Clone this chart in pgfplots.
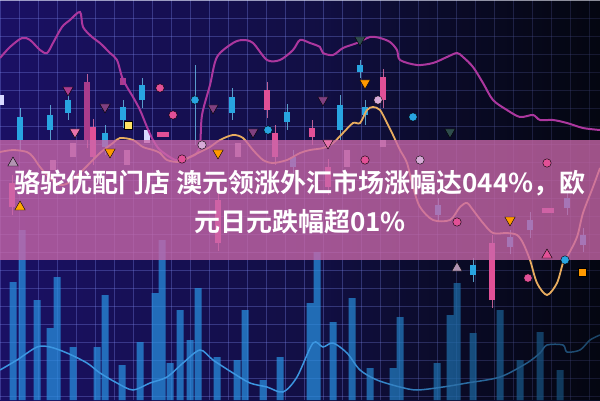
\documentclass[border=0pt]{standalone}
\usepackage{pgfplots}
\pgfplotsset{compat=1.18}
\usepackage{fontspec}
\usetikzlibrary{fadings}
\newfontfamily\cjk[BoldFont={Noto Sans CJK SC Bold}]{Noto Sans CJK SC}
\definecolor{bgL}{RGB}{26,16,100}
\definecolor{bgM}{RGB}{36,28,145}
\definecolor{bgR}{RGB}{10,14,38}
\definecolor{gridc}{RGB}{120,130,230}
\definecolor{barc}{RGB}{40,145,225}
\definecolor{blueline}{RGB}{60,150,225}
\definecolor{magline}{RGB}{172,55,158}
\definecolor{orline}{RGB}{232,172,95}
\definecolor{cy}{RGB}{40,165,225}
\definecolor{pk}{RGB}{225,80,150}
\definecolor{pkd}{RGB}{170,60,140}
\definecolor{lav}{RGB}{215,170,215}
\definecolor{banner}{RGB}{202,104,170}
\begin{document}
\begin{tikzpicture}
\begin{axis}[name=ax, at={(0,0)}, anchor=south west,
  scale only axis, width=600pt, height=400pt,
  xmin=0, xmax=600, ymin=0, ymax=400,
  axis line style={draw=none},
  xtick={0,19,...,600}, ytick={4,22,...,400},
  xticklabels={}, yticklabels={}, major tick length=0pt,
  grid=major, grid style={gridc, line width=0.6pt, opacity=0.35},
  axis background/.style={shade, left color=bgL, middle color=bgM, right color=bgR}]
% bottom bars
\addplot[ybar, bar shift=0pt, bar width=7, fill=barc, draw=none, fill opacity=0.72] coordinates {
(13,118) (22,170) (37,100) (50,72) (57,123) (73,53) (97,53) (105,105) (122,35) (140,58)
(155,107) (162,160) (170,37) (180,90) (190,60) (198,112) (217,43) (237,40) (245,90) (263,20)
(280,43) (310,97) (317,148) (333,78) (352,102) (370,32) (393,32) (400,83) (437,37) (450,85)
(457,117) (473,67) (500,90) (520,40) (540,68) (560,30)};
% bottom blue line
\addplot[blueline, line width=1.5pt, smooth] coordinates {
(0,30) (17,40) (37,53) (50,53) (67,47) (87,37) (100,27) (117,17) (133,10) (150,17) (167,23)
(183,37) (200,50) (213,40) (233,27) (250,17) (267,13) (283,8) (297,23) (313,57) (323,53)
(333,57) (347,47) (360,30) (377,20) (400,13) (417,10) (443,13) (467,17) (500,23) (527,37)
(540,47) (547,55) (563,55) (567,48) (580,50) (590,60) (600,65)};
\fill[black, opacity=0.55, path fading=west] (axis cs:330,0) rectangle (axis cs:600,400);
% wicks
\addplot[cy!70!white, line width=1pt, opacity=0.8, unbounded coords=jump] coordinates {
(20,250) (20,292) (20,nan) (50,260) (50,295) (50,nan) (68,280) (68,305) (68,nan)
(105,245) (105,275) (105,nan) (123,272) (123,300) (123,nan) (142,292) (142,322) (142,nan)
(232,280) (232,312) (232,nan) (287,270) (287,296) (287,nan) (293,225) (293,250) (293,nan)
(360,322) (360,340) (360,nan) (365,275) (365,300) (365,nan) (340,260) (340,305) (340,nan)
(473,118) (473,142) (473,nan) (438,178) (438,202) (438,nan) (530,162) (530,188) (530,nan)
(567,185) (567,210) (567,nan) (583,148) (583,172) (583,nan) (510,146) (510,170) (510,nan)
(195,255) (195,335)};
\addplot[pk!80!white, line width=1pt, opacity=0.8, unbounded coords=jump] coordinates {
(87,252) (87,326) (87,nan) (93,235) (93,281) (93,nan) (267,282) (267,318) (267,nan)
(275,235) (275,275) (275,nan) (312,255) (312,280) (312,nan) (383,292) (383,331) (383,nan)
(328,205) (328,241) (328,nan) (492,92) (492,165) (492,nan) (218,149) (218,208) (218,nan)
(12,185) (12,225)};
% candle bodies
\addplot[cy, line width=6.5pt, unbounded coords=jump] coordinates {
(20,260) (20,283) (20,nan) (50,270) (50,285) (50,nan) (68,287) (68,300) (68,nan)
(105,253) (105,267) (105,nan) (123,280) (123,293) (123,nan) (142,300) (142,315) (142,nan)
(232,287) (232,303) (232,nan) (287,278) (287,288) (287,nan) (293,233) (293,243) (293,nan)
(360,328) (360,335) (360,nan) (365,285) (365,293) (365,nan) (340,270) (340,295) (340,nan)
(473,125) (473,135) (473,nan) (438,185) (438,195) (438,nan) (530,170) (530,180) (530,nan)
(567,192) (567,202) (567,nan) (583,155) (583,165) (583,nan) (510,153) (510,163)};
\addplot[pk, line width=6.5pt, unbounded coords=jump] coordinates {
(93,243) (93,273) (93,nan) (267,290) (267,310) (267,nan) (275,243) (275,267) (275,nan)
(312,263) (312,272) (312,nan) (383,300) (383,323) (383,nan) (328,213) (328,233) (328,nan)
(492,100) (492,157) (492,nan) (218,157) (218,200) (218,nan) (12,193) (12,217)};
\addplot[pkd, line width=6.5pt, unbounded coords=jump] coordinates {
(87,260) (87,318) (87,nan) (123,315) (123,322)};
\addplot[pk, line width=5pt, unbounded coords=jump] coordinates {
(157,265.5) (169,265.5) (169,nan) (542,190) (554,190)};
\addplot[lav, line width=6.5pt, unbounded coords=jump, opacity=0.8] coordinates {
(73,243) (73,257) (73,nan) (127,235) (127,250) (127,nan) (53,230) (53,240) (53,nan)
(238,243) (238,257) (238,nan) (347,233) (347,250) (347,nan) (383,253) (383,260)};
\addplot[white!85!blue, line width=6pt, unbounded coords=jump] coordinates {
(147,257) (147,270) (147,nan) (1,295) (1,305)};
% markers
\addplot[only marks, mark=triangle*, mark size=6pt, mark options={rotate=180, draw=none, fill=pkd}] coordinates {(68,310)};
\addplot[only marks, mark=triangle*, mark size=6pt, mark options={rotate=180, draw=none, fill=violet!50!gray}] coordinates {(105,293) (213,292) (323,300) (253,268)};
\addplot[only marks, mark=triangle*, mark size=6pt, mark options={rotate=180, draw=none, fill=pk!80!white}] coordinates {(75,268) (328,257)};
\addplot[only marks, mark=triangle*, mark size=6pt, mark options={rotate=180, draw=none, fill=orange!80!yellow}] coordinates {(110,248) (218,247) (510,180) (365,317)};
\addplot[only marks, mark=triangle*, mark size=6pt, mark options={rotate=180, draw=none, fill=gray!60!teal!60!black}] coordinates {(360,360) (450,268)};
\addplot[only marks, mark=triangle*, mark size=6pt, mark options={draw=none, fill=gray!60!violet!60!white}] coordinates {(13,237) (457,132)};
\addplot[only marks, mark=triangle*, mark size=6pt, mark options={draw=none, fill=orange!70!yellow}] coordinates {(20,193)};
\addplot[only marks, mark=triangle*, mark size=6pt, mark options={draw=none, fill=pk}] coordinates {(547,145)};
\addplot[only marks, mark=*, mark size=4.2pt, mark options={draw=none, fill=pk}] coordinates {(173,285) (182,241) (457,178) (528,122) (365,240) (547,237) (160,312)};
\addplot[only marks, mark=*, mark size=4.2pt, mark options={draw=none, fill=cy}] coordinates {(195,300) (268,270) (413,283) (565,140)};
\addplot[only marks, mark=*, mark size=4.2pt, mark options={draw=none, fill=lav}] coordinates {(202,255) (420,240) (378,300)};
\addplot[only marks, mark=square*, mark size=4pt, mark options={draw=none, fill=yellow!70!orange!60!white}] coordinates {(128,275)};
\addplot[only marks, mark=square*, mark size=4pt, mark options={draw=none, fill=orange!80!yellow}] coordinates {(582,128)};
% magenta line
\addplot[magline, line width=2pt, smooth] coordinates {
(0,342) (10,353) (22,362) (30,360) (40,350) (47,347) (53,357) (62,373) (70,380) (80,388)
(83,373) (92,363) (100,357) (110,347) (117,340) (122,323) (127,313) (133,303) (140,290)
(147,273) (153,260) (160,250) (175,240) (182,241) (195,245) (200,255) (202,285) (210,315)
(217,343) (233,357) (243,360) (253,357) (267,340) (280,340) (293,350) (300,360) (310,357)
(320,353) (323,347) (333,345) (343,352) (357,357) (370,363) (380,362) (390,358) (397,350)
(400,340) (417,335) (433,337) (447,343) (457,347) (463,343) (473,333) (483,317) (493,300)
(507,290) (520,283) (533,285) (540,280) (553,280) (567,277) (583,272) (600,270)};
% orange line
\addplot[orline, line width=1.8pt, smooth] coordinates {
(0,248) (13,250) (27,248) (33,243) (40,233) (50,222) (60,215) (70,218) (83,230) (100,247)
(113,257) (120,262) (133,260) (143,253) (153,250) (160,247) (167,240) (180,238) (190,243)
(200,248) (210,253) (220,260) (233,265) (243,262) (253,250) (263,240) (273,237) (287,240)
(300,247) (310,250) (323,252) (333,257) (343,267) (353,277) (360,277) (367,290) (373,293)
(380,290) (387,277) (393,265) (400,250) (407,237) (413,213) (420,193) (433,180) (450,180)
(460,193) (467,197) (473,190) (483,177) (493,167) (507,167) (517,165) (523,157) (530,140)
(537,117) (547,105) (557,117) (563,137) (567,143) (577,163) (583,187) (593,213) (600,232)};
% banner
\fill[banner, opacity=0.78] (axis cs:0,140) rectangle (axis cs:600,260);
\fill[white, opacity=0.5] (axis cs:0,398.5) rectangle (axis cs:600,400);
\node[text=white, font=\cjk\bfseries\fontsize{26}{30}\selectfont] at (axis cs:300,217) {骆驼优配门店 澳元领涨外汇市场涨幅达044\%，欧};
\node[text=white, font=\cjk\bfseries\fontsize{26}{30}\selectfont] at (axis cs:300,178) {元日元跌幅超01\%};
\end{axis}
\pgfresetboundingbox
\path (ax.south west) rectangle (ax.north east);
\end{tikzpicture}
\end{document}
